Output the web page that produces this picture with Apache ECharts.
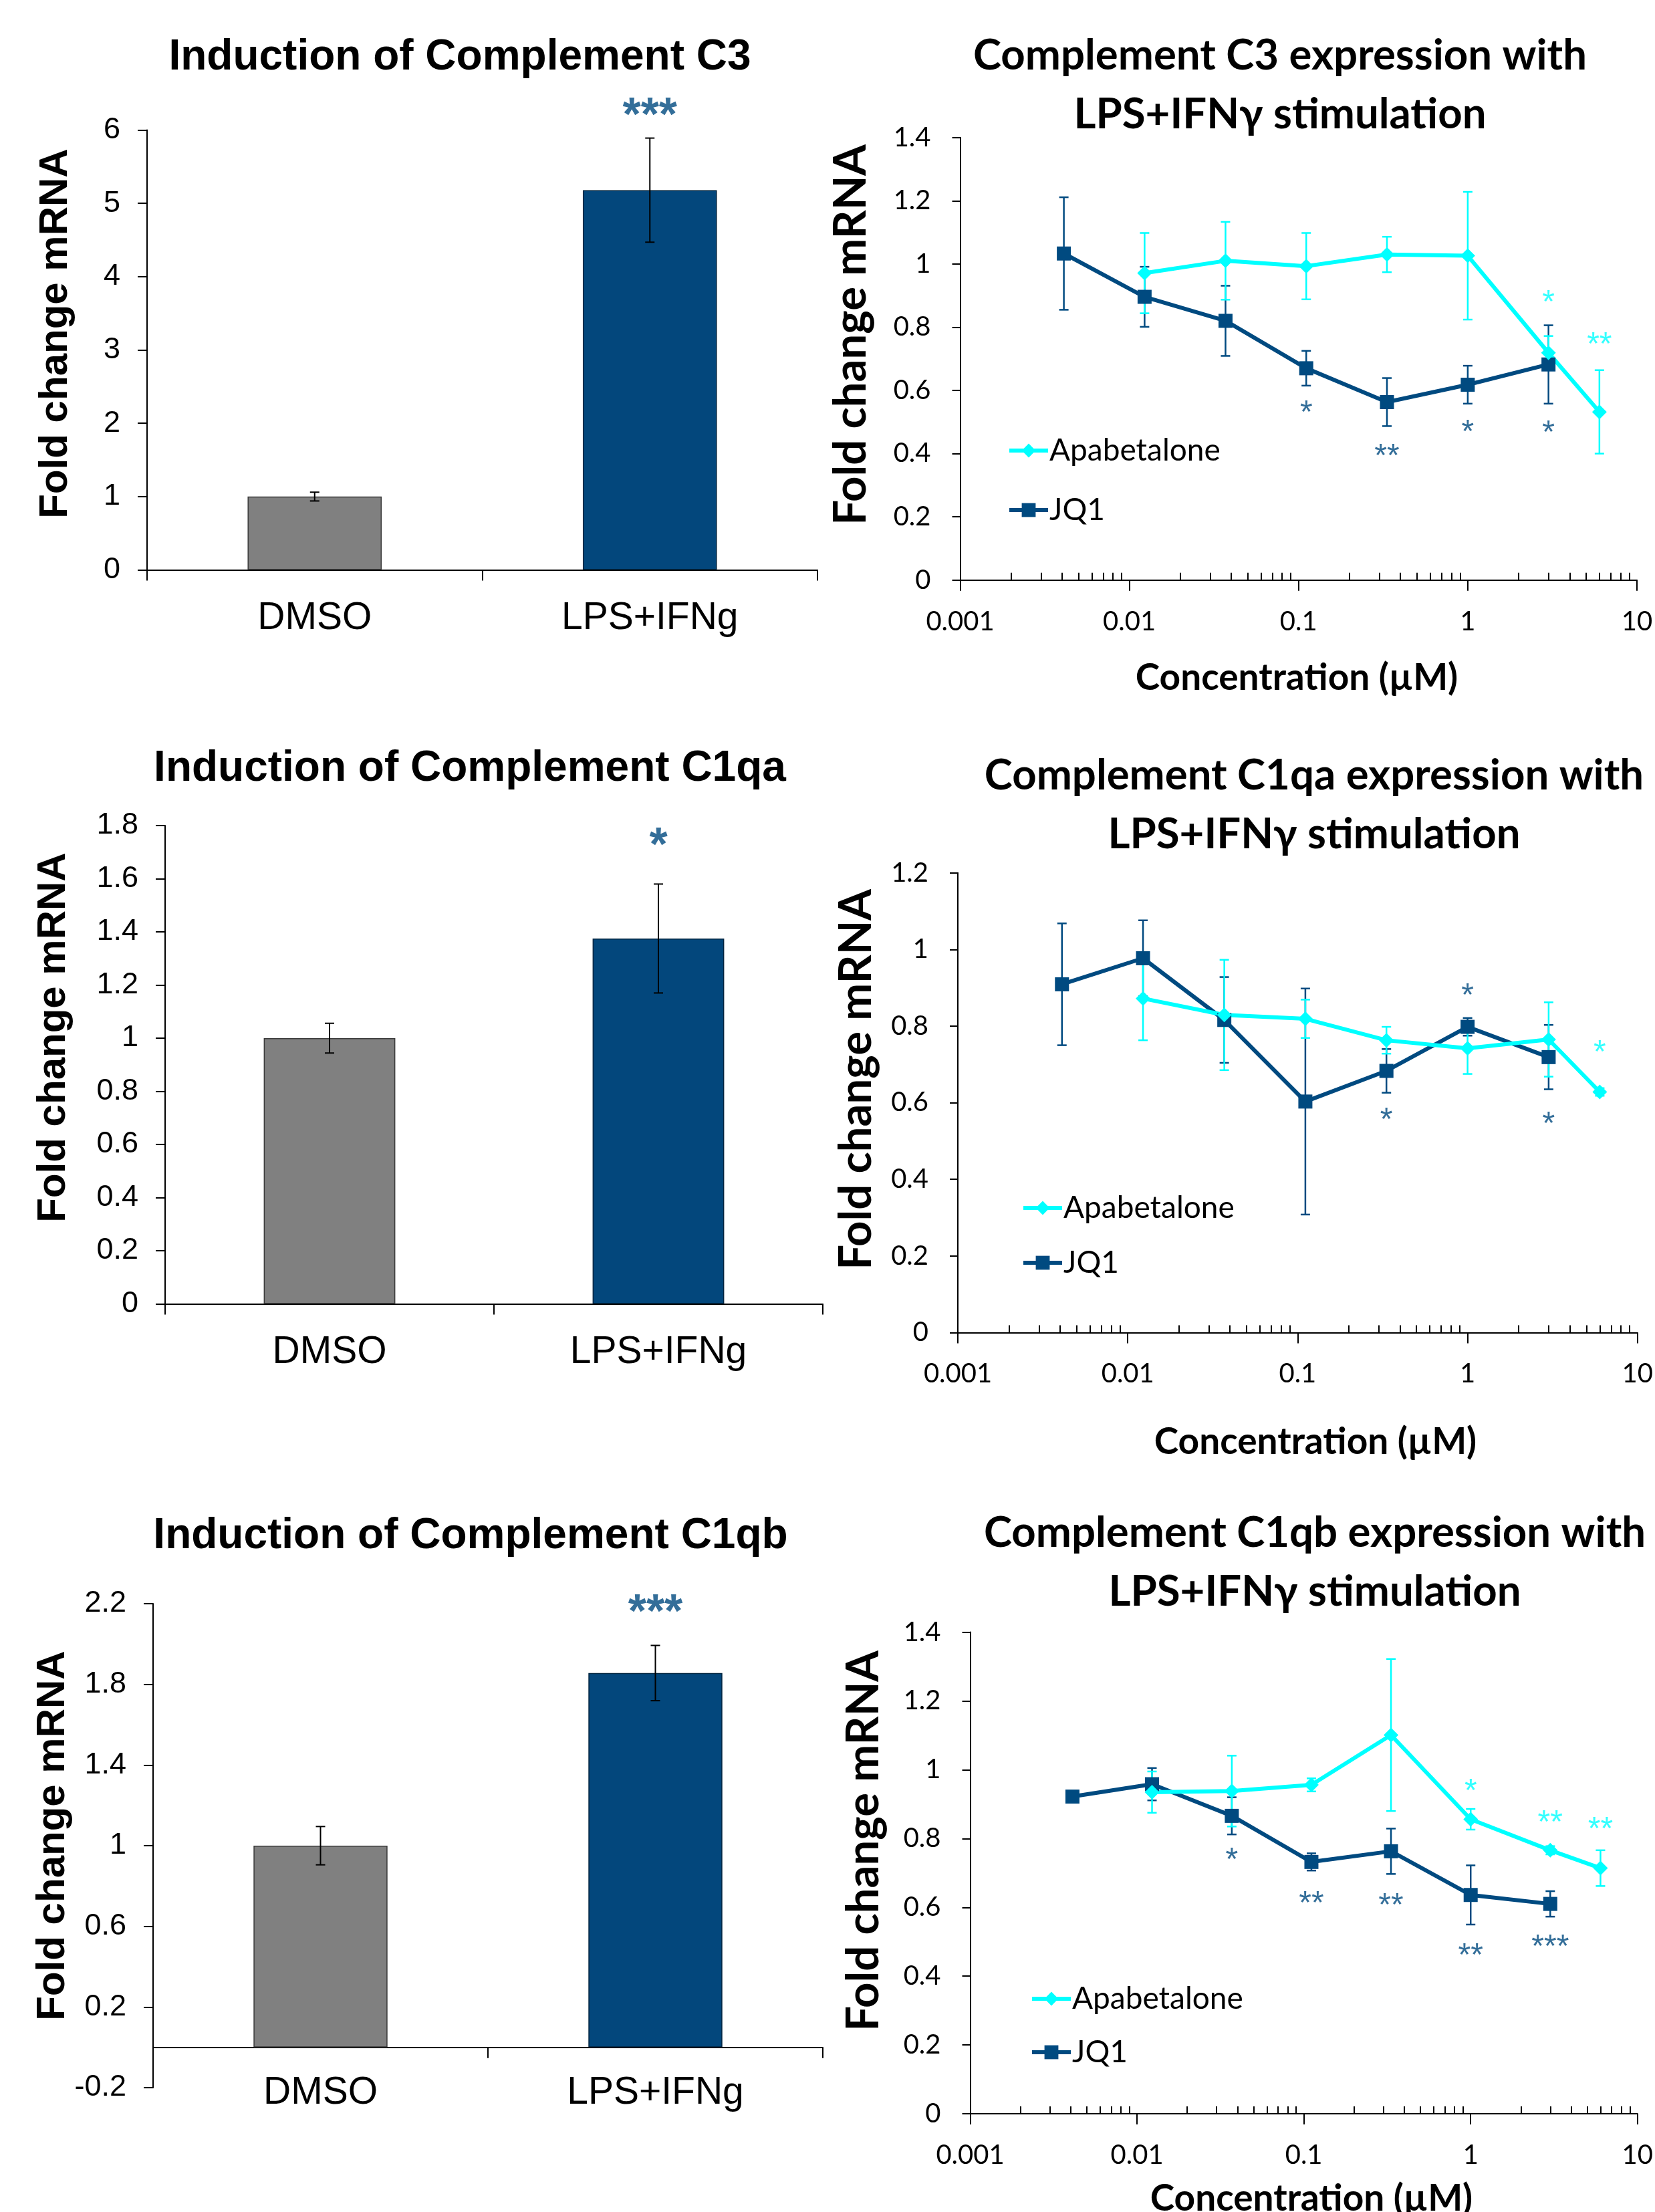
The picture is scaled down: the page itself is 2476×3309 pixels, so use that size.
<!DOCTYPE html>
<html>
<head>
<meta charset="utf-8">
<script src="https://cdn.jsdelivr.net/npm/echarts@6/dist/echarts.min.js"></script>
<style>
  html, body { margin: 0; padding: 0; background: #fff; }
  #chart { width: 2476px; height: 3309px; }
</style>
</head>
<body>
<div id="chart"></div>
<script>
// ---- bar panels (left column) ----
const barCategories = ['DMSO', 'LPS+IFNg'];
const c3Bar = [1.0, 5.18];
const c3BarErr = [0.06, 0.71];
const c1qaBar = [1.0, 1.375];
const c1qaBarErr = [0.056, 0.205];
const c1qbBar = [1.0, 1.856];
const c1qbBarErr = [0.095, 0.137];
const c3BarTicks = [0, 1, 2, 3, 4, 5, 6];
const c1qaBarTicks = [0, 0.2, 0.4, 0.6, 0.8, 1, 1.2, 1.4, 1.6, 1.8];
const c1qbBarTicks = [-0.2, 0.2, 0.6, 1, 1.4, 1.8, 2.2];
// significance marks: [category, y, text]
const c3BarStars = [['LPS+IFNg', 6.32, '***']];
const c1qaBarStars = [['LPS+IFNg', 1.757, '*']];
const c1qbBarStars = [['LPS+IFNg', 2.2, '***']];

// ---- dose response panels (right column) ----
const apaConc = [0.0123, 0.037, 0.111, 0.333, 1, 3, 6];
const jq1Conc = [0.0041, 0.0123, 0.037, 0.111, 0.333, 1, 3];
const logTicks = [0.001, 0.01, 0.1, 1, 10];
const logTickLabels = ['0.001', '0.01', '0.1', '1', '10'];
const logMinorTicks = [0.002, 0.003, 0.004, 0.005, 0.006, 0.007, 0.008, 0.009,
  0.02, 0.03, 0.04, 0.05, 0.06, 0.07, 0.08, 0.09,
  0.2, 0.3, 0.4, 0.5, 0.6, 0.7, 0.8, 0.9,
  2, 3, 4, 5, 6, 7, 8, 9];
const c3Ticks = [0, 0.2, 0.4, 0.6, 0.8, 1, 1.2, 1.4];
const c1qaTicks = [0, 0.2, 0.4, 0.6, 0.8, 1, 1.2];
const c1qbTicks = [0, 0.2, 0.4, 0.6, 0.8, 1, 1.2, 1.4];

const c3Apa = [0.971, 1.010, 0.993, 1.030, 1.026, 0.719, 0.532];
const c3ApaErr = [0.127, 0.123, 0.105, 0.056, 0.202, 0.053, 0.132];
const c3Jq1 = [1.033, 0.896, 0.820, 0.670, 0.563, 0.618, 0.682];
const c3Jq1Err = [0.178, 0.095, 0.111, 0.055, 0.076, 0.060, 0.124];
const c3ApaStars = [[3, 0.899, '*'], [6, 0.765, '**']];
const c3Jq1Stars = [[0.111, 0.550, '*'], [0.333, 0.413, '**'], [1, 0.488, '*'], [3, 0.486, '*']];

const c1qaApa = [0.872, 0.829, 0.819, 0.763, 0.742, 0.765, 0.628];
const c1qaApaErr = [0.109, 0.144, 0.050, 0.035, 0.067, 0.097, 0.010];
const c1qaJq1 = [0.909, 0.977, 0.816, 0.603, 0.683, 0.798, 0.719];
const c1qaJq1Err = [0.159, 0.099, 0.112, 0.295, 0.057, 0.023, 0.084];
const c1qaApaStars = [[6, 0.748, '*']];
const c1qaJq1Stars = [[1, 0.896, '*'], [0.333, 0.571, '*'], [3, 0.561, '*']];

const c1qbApa = [0.935, 0.938, 0.956, 1.101, 0.856, 0.766, 0.714];
const c1qbApaErr = [0.060, 0.103, 0.019, 0.221, 0.030, 0.012, 0.052];
const c1qbJq1 = [0.922, 0.958, 0.866, 0.732, 0.763, 0.636, 0.610];
const c1qbJq1Err = [0.0, 0.047, 0.054, 0.025, 0.066, 0.086, 0.037];
const c1qbApaStars = [[1, 0.956, '*'], [3, 0.866, '**'], [6, 0.845, '**']];
const c1qbJq1Stars = [[0.037, 0.756, '*'], [0.111, 0.630, '**'], [0.333, 0.625, '**'], [1, 0.478, '**'], [3, 0.503, '***']];

const BLUE = '#004a80';
const CYAN = '#00ffff';
const GRAY = '#808080';
const BAR_BLUE = '#03477c';
const LEFT_FONT = '"Liberation Sans", Arial, sans-serif';
const RIGHT_FONT = 'Lato, "Open Sans", sans-serif';
const AXIS_LINE = { color: '#000', width: 2 };

const chart = echarts.init(document.getElementById('chart'));

const grids = [
  { left: 220, top: 194.5, width: 1003, height: 658 },
  { left: 247, top: 1235, width: 984, height: 715.5 },
  { left: 229, top: 2399, width: 1002, height: 724 },
  { left: 1436.5, top: 205.7, width: 1012.5, height: 662 },
  { left: 1433, top: 1305.7, width: 1028, height: 687.7 },
  { left: 1451.5, top: 2441.6, width: 1020.5, height: 720.4 }
];

function numLabel(v) {
  return String(+(+v).toFixed(3));
}

// error bar renderer: data item [x, low, high]
function errorBars(color, lineWidth, cap) {
  return function (params, api) {
    const x = api.value(0);
    const lo = api.coord([x, api.value(1)]);
    const hi = api.coord([x, api.value(2)]);
    const st = { stroke: color, lineWidth: lineWidth };
    return {
      type: 'group',
      children: [
        { type: 'line', shape: { x1: lo[0], y1: lo[1], x2: hi[0], y2: hi[1] }, style: st },
        { type: 'line', shape: { x1: lo[0] - cap, y1: lo[1], x2: lo[0] + cap, y2: lo[1] }, style: st },
        { type: 'line', shape: { x1: hi[0] - cap, y1: hi[1], x2: hi[0] + cap, y2: hi[1] }, style: st }
      ]
    };
  };
}

function starSeries(axisIdx, stars, color, size, weight, dy) {
  return {
    type: 'scatter', name: 'sig', xAxisIndex: axisIdx.x, yAxisIndex: axisIdx.y,
    symbolSize: 0, clip: false, silent: true, z: 5,
    data: stars,
    label: {
      show: true, position: 'inside', offset: [0, dy],
      formatter: p => p.data[2],
      color: color, fontSize: size, fontWeight: weight, fontFamily: LEFT_FONT
    }
  };
}

const xAxes = [];
const yAxes = [];
const series = [];

// left column: bar charts
const barPanels = [
  { vals: c3Bar, err: c3BarErr, ticks: c3BarTicks, stars: c3BarStars, labelMargin: 44 },
  { vals: c1qaBar, err: c1qaBarErr, ticks: c1qaBarTicks, stars: c1qaBarStars, labelMargin: 44 },
  { vals: c1qbBar, err: c1qbBarErr, ticks: c1qbBarTicks, stars: c1qbBarStars, labelMargin: -20 }
];
barPanels.forEach((p, i) => {
  xAxes.push({
    type: 'category', gridIndex: i, data: barCategories,
    axisLine: { onZero: true, lineStyle: AXIS_LINE },
    axisTick: { show: true, length: 16, lineStyle: AXIS_LINE },
    axisLabel: { fontFamily: LEFT_FONT, fontSize: 57, color: '#000', margin: p.labelMargin }
  });
  yAxes.push({
    type: 'value', gridIndex: i,
    min: p.ticks[0], max: p.ticks[p.ticks.length - 1],
    axisLine: { show: true, lineStyle: AXIS_LINE },
    axisTick: { show: true, length: 14, customValues: p.ticks, lineStyle: AXIS_LINE },
    axisLabel: {
      customValues: p.ticks, formatter: numLabel,
      fontFamily: LEFT_FONT, fontSize: 45, color: '#000', margin: 40
    },
    splitLine: { show: false }
  });
  series.push({
    type: 'bar', name: 'bars', xAxisIndex: i, yAxisIndex: i, barWidth: '40%',
    data: p.vals.map((v, k) => ({
      value: v,
      itemStyle: {
        color: k ? BAR_BLUE : GRAY,
        borderColor: k ? '#00243f' : '#3a3a3a', borderWidth: 1.5
      }
    }))
  });
  series.push({
    type: 'custom', name: 'barErr', xAxisIndex: i, yAxisIndex: i, z: 4,
    renderItem: errorBars('#000', 2, 7),
    encode: { x: 0, y: [1, 2] },
    data: p.vals.map((v, k) => [k, v - p.err[k], v + p.err[k]])
  });
  series.push(starSeries({ x: i, y: i }, p.stars, BLUE, 70, 'bold', 16));
});

// right column: dose response
const linePanels = [
  { ticks: c3Ticks, apa: c3Apa, apaErr: c3ApaErr, jq1: c3Jq1, jq1Err: c3Jq1Err, apaStars: c3ApaStars, jq1Stars: c3Jq1Stars },
  { ticks: c1qaTicks, apa: c1qaApa, apaErr: c1qaApaErr, jq1: c1qaJq1, jq1Err: c1qaJq1Err, apaStars: c1qaApaStars, jq1Stars: c1qaJq1Stars },
  { ticks: c1qbTicks, apa: c1qbApa, apaErr: c1qbApaErr, jq1: c1qbJq1, jq1Err: c1qbJq1Err, apaStars: c1qbApaStars, jq1Stars: c1qbJq1Stars }
];
linePanels.forEach((p, j) => {
  const g = 3 + j;
  xAxes[g] = {
    type: 'log', logBase: 10, gridIndex: g, min: 0.001, max: 10,
    axisLine: { onZero: false, lineStyle: AXIS_LINE },
    axisTick: { show: true, length: 16, customValues: logTicks, lineStyle: AXIS_LINE },
    axisLabel: {
      customValues: logTicks,
      formatter: v => logTickLabels[logTicks.findIndex(t => Math.abs(Math.log10(t) - Math.log10(v)) < 1e-6)],
      fontFamily: RIGHT_FONT, fontSize: 40, color: '#000', margin: 42
    },
    splitLine: { show: false }
  };
  xAxes[6 + j] = {
    type: 'log', logBase: 10, gridIndex: g, min: 0.001, max: 10,
    axisLine: { show: false },
    axisTick: { show: true, length: 11, customValues: logMinorTicks, lineStyle: AXIS_LINE },
    axisLabel: { show: false },
    splitLine: { show: false }
  };
  yAxes.push({
    type: 'value', gridIndex: g,
    min: 0, max: p.ticks[p.ticks.length - 1],
    axisLine: { show: true, lineStyle: AXIS_LINE },
    axisTick: { show: true, length: 12, customValues: p.ticks, lineStyle: AXIS_LINE },
    axisLabel: {
      customValues: p.ticks, formatter: numLabel,
      fontFamily: RIGHT_FONT, fontSize: 40, color: '#000', margin: 44
    },
    splitLine: { show: false }
  });
  series.push({
    type: 'custom', name: 'jq1Err', xAxisIndex: g, yAxisIndex: g,
    renderItem: errorBars(BLUE, 2.5, 7), encode: { x: 0, y: [1, 2] },
    data: jq1Conc.map((c, k) => [c, p.jq1[k] - p.jq1Err[k], p.jq1[k] + p.jq1Err[k]])
  });
  series.push({
    type: 'custom', name: 'apaErr', xAxisIndex: g, yAxisIndex: g,
    renderItem: errorBars(CYAN, 2.5, 7), encode: { x: 0, y: [1, 2] },
    data: apaConc.map((c, k) => [c, p.apa[k] - p.apaErr[k], p.apa[k] + p.apaErr[k]])
  });
  series.push({
    type: 'line', name: 'JQ1', xAxisIndex: g, yAxisIndex: g,
    symbol: 'rect', symbolSize: 21,
    lineStyle: { color: BLUE, width: 6 }, itemStyle: { color: BLUE },
    data: jq1Conc.map((c, k) => [c, p.jq1[k]])
  });
  series.push({
    type: 'line', name: 'Apabetalone', xAxisIndex: g, yAxisIndex: g,
    symbol: 'diamond', symbolSize: 22,
    lineStyle: { color: CYAN, width: 6 }, itemStyle: { color: CYAN },
    data: apaConc.map((c, k) => [c, p.apa[k]])
  });
  series.push(starSeries({ x: g, y: g }, p.jq1Stars, BLUE, 48, 'normal', 11));
  series.push(starSeries({ x: g, y: g }, p.apaStars, CYAN, 48, 'normal', 11));
});

const legendPos = [
  { left: 1502, top: 646, gap: 43 },
  { left: 1523, top: 1779, gap: 36 },
  { left: 1536, top: 2962, gap: 34 }
];
const legends = legendPos.map(l => ({
  data: ['Apabetalone', 'JQ1'], orient: 'vertical', left: l.left, top: l.top,
  itemGap: l.gap, itemWidth: 58, itemHeight: 26, selectedMode: false,
  lineStyle: { width: 6 },
  textStyle: { fontFamily: RIGHT_FONT, fontSize: 46, color: '#000', padding: [0, 0, 0, -3] }
}));

function textEl(text, x, y, font, rot) {
  return {
    type: 'text', x: x, y: y, rotation: rot || 0, silent: true,
    style: {
      text: text, font: font, fill: '#000',
      align: 'center', verticalAlign: 'middle',
      textAlign: 'center', textVerticalAlign: 'middle', lineHeight: 88
    }
  };
}
const leftTitleFont = 'bold 64px "Liberation Sans", Arial, sans-serif';
const leftAxisFont = 'bold 60px "Liberation Sans", Arial, sans-serif';
const rightTitleFont = 'bold 63.5px Lato, "Open Sans", sans-serif';
const rightAxisFont = 'bold 67px Lato, "Open Sans", sans-serif';
const xNameFont = 'bold 55px Lato, "Open Sans", sans-serif';
const V = Math.PI / 2;

const graphics = [
  textEl('Induction of Complement C3', 688, 86, leftTitleFont),
  textEl('Induction of Complement C1qa', 703, 1150, leftTitleFont),
  textEl('Induction of Complement C1qb', 704, 2298, leftTitleFont),
  textEl('Fold change mRNA', 83, 499, leftAxisFont, V),
  textEl('Fold change mRNA', 80, 1552, leftAxisFont, V),
  textEl('Fold change mRNA', 79, 2746, leftAxisFont, V),
  textEl('Complement C3 expression with\nLPS+IFNγ stimulation', 1915, 128, rightTitleFont),
  textEl('Complement C1qa expression with\nLPS+IFNγ stimulation', 1966, 1205, rightTitleFont),
  textEl('Complement C1qb expression with\nLPS+IFNγ stimulation', 1967, 2338, rightTitleFont),
  textEl('Fold change mRNA', 1273, 501, rightAxisFont, V),
  textEl('Fold change mRNA', 1281, 1615, rightAxisFont, V),
  textEl('Fold change mRNA', 1292, 2754, rightAxisFont, V),
  textEl('Concentration (µM)', 1940, 1014, xNameFont),
  textEl('Concentration (µM)', 1968, 2157, xNameFont),
  textEl('Concentration (µM)', 1962, 3289, xNameFont)
];

chart.setOption({
  backgroundColor: '#fff',
  animation: false,
  grid: grids,
  xAxis: xAxes,
  yAxis: yAxes,
  legend: legends,
  graphic: graphics,
  series: series
});
</script>
</body>
</html>
